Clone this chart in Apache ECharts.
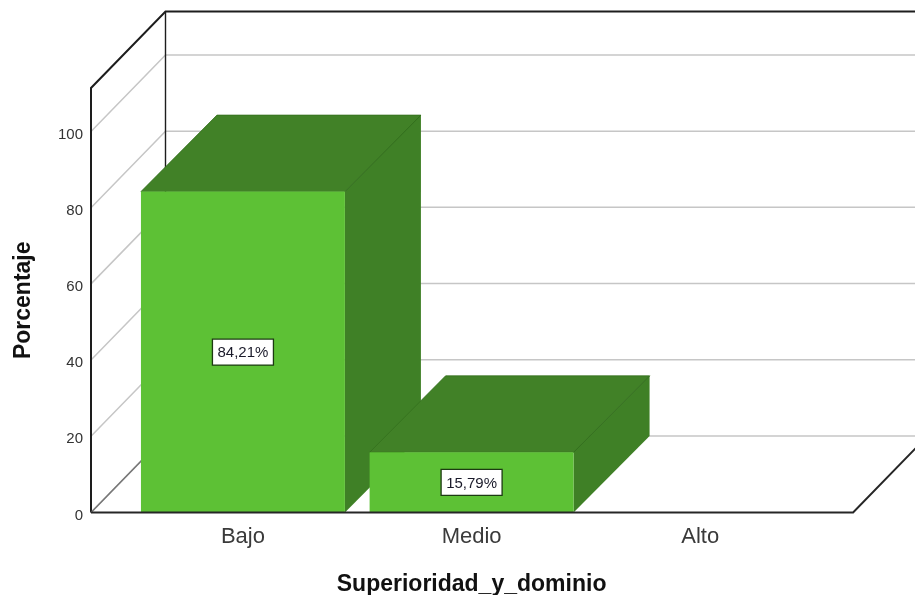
<!DOCTYPE html>
<html>
<head>
<meta charset="utf-8">
<style>html,body{margin:0;padding:0;background:#fff}#c{width:915px;height:595px}</style>
<script src="https://cdn.jsdelivr.net/npm/echarts@6/dist/echarts.min.js"></script>
</head>
<body>
<div id="c"></div>
<script>
const categories = ['Bajo', 'Medio', 'Alto'];
const percentages = [84.21, 15.79, 0];
const gridValues = [0, 20, 40, 60, 80, 100];
const axisTop = 111.4;
const xTitle = 'Superioridad_y_dominio';
const yTitle = 'Porcentaje';

const depthX = 74.5, depthY = -76.5, barDepthX = 76;
const wallLeftGap = 37.6, floorRightGap = 38.5;
const barRatio = 0.892;
const FONT = '"Liberation Sans", Arial, sans-serif';
const FRONT = '#5dc135', SIDE = '#3f8026', TOP = '#418127', EDGE = '#33701d';

function wallX(p) { return p.coordSys.x - wallLeftGap; }
function floorEnd(p) { return p.coordSys.x + p.coordSys.width + floorRightGap; }

function renderGrid(p, api) {
  const y = api.coord([0, api.value(1)])[1];
  const x0 = wallX(p);
  return {
    type: 'polyline',
    shape: { points: [[x0, y], [x0 + depthX, y + depthY], [1000, y + depthY]] },
    style: { stroke: '#c6c6c6', lineWidth: 1.5, fill: null }
  };
}

function renderFrame(p, api) {
  const x0 = wallX(p);
  const yTop = p.coordSys.y, yBot = p.coordSys.y + p.coordSys.height;
  const line = (pts, w) => ({ type: 'polyline', shape: { points: pts }, style: { stroke: '#1d1d1d', lineWidth: w, fill: null } });
  return { type: 'group', children: [
    line([[x0, yBot], [x0, yTop], [x0 + depthX, yTop + depthY], [1000, yTop + depthY]], 2),
    line([[x0 + depthX, yTop + depthY], [x0 + depthX, yBot + depthY]], 1.4),
    { type: 'polyline', shape: { points: [[x0, yBot], [x0 + depthX, yBot + depthY]] }, style: { stroke: '#777', lineWidth: 1.6, fill: null } }
  ] };
}

function renderFloor(p, api) {
  const x0 = wallX(p), yBot = p.coordSys.y + p.coordSys.height, xe = floorEnd(p);
  return { type: 'polyline', shape: { points: [[x0, yBot], [xe, yBot], [xe + depthX, yBot + depthY]] }, style: { stroke: '#262626', lineWidth: 2, fill: null } };
}

function renderBar(p, api) {
  const v = api.value(1);
  if (!v) return null;
  const i = api.value(0);
  const c = api.coord([i, v]);
  const base = api.coord([i, 0]);
  const w = api.size([1, 0])[0] * barRatio;
  const l = c[0] - w / 2, r = c[0] + w / 2, t = c[1], b = base[1];
  const label = v.toFixed(2).replace('.', ',') + '%';
  const my = (t + b) / 2;
  const o = i * 10;
  return { type: 'group', children: [
    { type: 'polygon', z2: o + 1, shape: { points: [[r, t], [r + barDepthX, t + depthY], [r + barDepthX, b + depthY], [r, b]] }, style: { fill: SIDE } },
    { type: 'polygon', z2: o + 2, shape: { points: [[l, t], [l + barDepthX, t + depthY], [r + barDepthX, t + depthY], [r, t]] }, style: { fill: TOP, stroke: EDGE, lineWidth: 0.8 } },
    { type: 'line', z2: o + 3, shape: { x1: r, y1: t, x2: r + barDepthX, y2: t + depthY }, style: { stroke: EDGE, lineWidth: 1 } },
    { type: 'rect', z2: o + 4, shape: { x: l, y: t, width: w, height: b - t }, style: { fill: FRONT } },
    { type: 'rect', z2: o + 5, shape: { x: c[0] - 30.5, y: my - 13, width: 61, height: 26 }, style: { fill: '#fff', stroke: '#1c3a12', lineWidth: 1.3 } },
    { type: 'text', z2: o + 6, style: { x: c[0], y: my + 1, text: label, fill: '#1a1a2a', font: '15px ' + FONT, align: 'center', verticalAlign: 'middle' } }
  ] };
}

const chart = echarts.init(document.getElementById('c'), null, { renderer: 'canvas' });
chart.setOption({
  animation: false,
  backgroundColor: '#fff',
  grid: { left: 128.6, top: 88, width: 686, height: 424.5, outerBoundsMode: 'none' },
  xAxis: {
    type: 'category', data: categories,
    axisLine: { show: false }, axisTick: { show: false },
    axisLabel: { fontFamily: FONT, fontSize: 22, color: '#3a3a3a', margin: 13 },
    name: xTitle, nameLocation: 'middle', nameGap: 61,
    nameTextStyle: { fontFamily: FONT, fontSize: 23, fontWeight: 'bold', color: '#111' }
  },
  yAxis: {
    type: 'value', min: 0, max: axisTop, interval: 20, offset: wallLeftGap,
    axisLine: { show: false }, axisTick: { show: false }, splitLine: { show: false },
    axisLabel: { fontFamily: FONT, fontSize: 15, color: '#333', margin: 8, showMaxLabel: false, verticalAlign: 'top', lineHeight: 6 },
    name: yTitle, nameLocation: 'middle', nameGap: 56,
    nameTextStyle: { fontFamily: FONT, fontSize: 23, fontWeight: 'bold', color: '#111' }
  },
  series: [
    { type: 'custom', silent: true, z: 1, renderItem: renderGrid, data: gridValues.map(v => [0, v]) },
    { type: 'custom', silent: true, z: 2, renderItem: renderFrame, data: [[0, 0]] },
    { type: 'custom', silent: true, z: 3, renderItem: renderBar, data: percentages.map((v, i) => [i, v]) },
    { type: 'custom', silent: true, z: 4, renderItem: renderFloor, data: [[0, 0]] }
  ]
});
</script>
</body>
</html>
